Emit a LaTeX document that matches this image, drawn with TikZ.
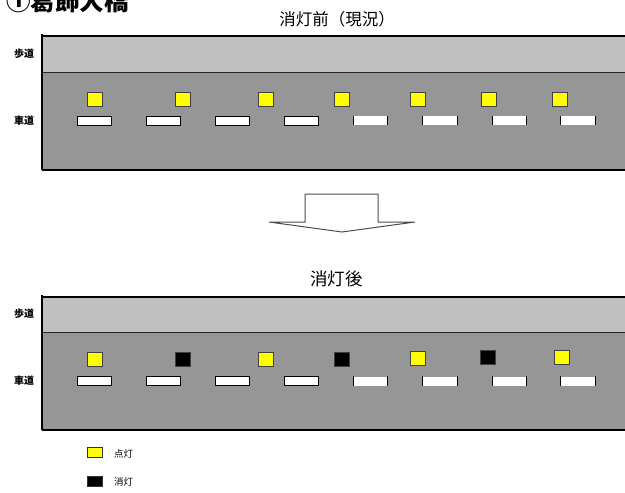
\documentclass[tikz,border=0pt]{standalone}
\usepackage{fontspec}
\newfontfamily\jp{Noto Sans CJK JP}
\definecolor{walkgray}{HTML}{C0C0C0}
\definecolor{roadgray}{HTML}{969696}
\definecolor{lampyellow}{HTML}{FFFF00}
\begin{document}
\begin{tikzpicture}[x=1pt,y=-1pt,
  walk/.style={fill=walkgray,draw=none},
  road/.style={fill=roadgray,draw=none},
  edge/.style={draw=black,line width=1.1pt},
  lampon/.style={draw=black!75,line width=0.9pt,fill=lampyellow,minimum width=15pt,minimum height=14pt,inner sep=0pt},
  lampoff/.style={draw=black!75,line width=0.9pt,fill=black,minimum width=15pt,minimum height=14pt,inner sep=0pt},
  lanefull/.style={draw=black,line width=0.8pt,fill=white,minimum width=34pt,minimum height=9pt,inner sep=0pt},
  lanehalf/.style={draw=none,fill=white,minimum width=34pt,minimum height=9pt,inner sep=0pt},
  label/.style={font=\jp\bfseries\fontsize{10}{12}\selectfont,inner sep=0pt},
  heading/.style={font=\jp\fontsize{16.5}{18}\selectfont,inner sep=0pt},
  legsq/.style={draw=black!80,line width=0.8pt,minimum width=15pt,minimum height=10pt,inner sep=0pt}
]
\useasboundingbox (0,0) rectangle (625,493);
\fill[white] (0,0) rectangle (625,493);

% title
\node[font=\jp\bfseries\fontsize{24.5}{26}\selectfont,anchor=base west,inner sep=0pt] (title) at (6,10) {①葛飾大橋};

% ---------- top panel ----------
\node[heading] (hbefore) at (337,19) {消灯前（現況）};
\fill[walk] (42,36) rectangle (626,72);
\fill[road] (42,72) rectangle (626,170);
\draw[edge] (42,36) -- (626,36);
\draw[draw=black!85,line width=1pt] (42,72) -- (626,72);
\draw[edge] (42,170) -- (626,170);
\draw[edge] (42,34) -- (42,170);
\node[label] (walk1) at (24,54) {歩道};
\node[label] (road1) at (24,121) {車道};

\foreach \x [count=\i] in {95,183,266,342,418,489,560}
  \node[lampon] (a\i) at (\x,99) {};
\foreach \x [count=\i] in {94,163.5,232,301}
  \node[lanefull] (ad\i) at (\x,120.5) {};
\foreach \x [count=\i from 5] in {370.5,440,509.5,578}{
  \node[lanehalf] (ad\i) at (\x,120.5) {};
  \draw[line width=0.8pt] (ad\i.north west) -- (ad\i.south west) (ad\i.north east) -- (ad\i.south east);
}

% ---------- arrow ----------
\node[inner sep=0pt,minimum size=0pt] (arr) at (342,213) {};
\draw[fill=white,draw=black!70,line width=1pt,line join=miter]
  (269,222) -- (305,222) -- (305,194) -- (378,194) -- (378,222) -- (415,222) -- (342,232) -- cycle;

% ---------- bottom panel ----------
\node[heading,font=\jp\fontsize{17.5}{19}\selectfont] (hafter) at (336.5,279) {消灯後};
\fill[walk] (42,297) rectangle (626,332);
\fill[road] (42,332) rectangle (626,430);
\draw[edge] (42,297) -- (626,297);
\draw[draw=black!85,line width=1pt] (42,332) -- (626,332);
\draw[edge] (42,430) -- (626,430);
\draw[edge] (42,295) -- (42,430);
\node[label] (walk2) at (24,314) {歩道};
\node[label] (road2) at (24,381) {車道};

\node[lampon]  (b1) at (95,359) {};
\node[lampoff] (b2) at (183,359) {};
\node[lampon]  (b3) at (266,359) {};
\node[lampoff] (b4) at (342,359) {};
\node[lampon]  (b5) at (418,358) {};
\node[lampoff] (b6) at (488,357) {};
\node[lampon]  (b7) at (562,357) {};
\foreach \x [count=\i] in {94,163.5,232,301}
  \node[lanefull] (bd\i) at (\x,381) {};
\foreach \x [count=\i from 5] in {370.5,440,509.5,578}{
  \node[lanehalf] (bd\i) at (\x,381) {};
  \draw[line width=0.8pt] (bd\i.north west) -- (bd\i.south west) (bd\i.north east) -- (bd\i.south east);
}

% ---------- legend ----------
\node[legsq,fill=lampyellow] (kon) at (94.5,452) {};
\node[legsq,fill=black] (koff) at (94.5,481) {};
\node[label,anchor=west,font=\jp\fontsize{9.5}{11}\selectfont] (ton) at (114,454) {点灯};
\node[label,anchor=west,font=\jp\fontsize{9.5}{11}\selectfont] (toff) at (114,482) {消灯};
\end{tikzpicture}
\end{document}
